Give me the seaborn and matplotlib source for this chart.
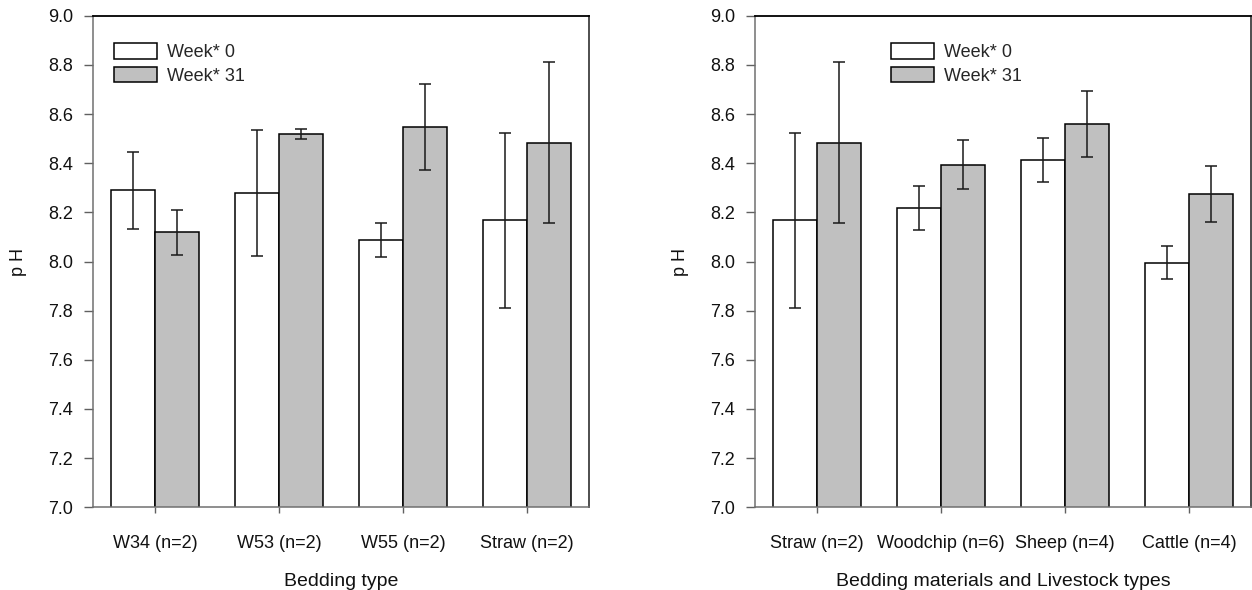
import matplotlib
matplotlib.use("Agg")
import matplotlib.pyplot as plt
import seaborn as sns
import pandas as pd

# ---- data ----
left_categories = ["W34 (n=2)", "W53 (n=2)", "W55 (n=2)", "Straw (n=2)"]
left_week0 = [8.290, 8.278, 8.088, 8.167]
left_week0_err = [0.156, 0.257, 0.070, 0.355]
left_week31 = [8.118, 8.519, 8.546, 8.483]
left_week31_err = [0.091, 0.020, 0.175, 0.328]

right_categories = ["Straw (n=2)", "Woodchip (n=6)", "Sheep (n=4)", "Cattle (n=4)"]
right_week0 = [8.167, 8.218, 8.413, 7.995]
right_week0_err = [0.355, 0.090, 0.090, 0.067]
right_week31 = [8.483, 8.394, 8.560, 8.274]
right_week31_err = [0.328, 0.101, 0.134, 0.113]

series_labels = ["Week* 0", "Week* 31"]
y_ticks = [7.0, 7.2, 7.4, 7.6, 7.8, 8.0, 8.2, 8.4, 8.6, 8.8, 9.0]
left_xlabel = "Bedding type"
right_xlabel = "Bedding materials and Livestock types"
ylabel = "p H"

sns.set_theme(style="ticks")
plt.rcParams["font.family"] = ["Liberation Sans", "DejaVu Sans"]

fig = plt.figure(figsize=(12.52, 5.9), dpi=100)
W, H = 1252, 590
ax_b = 1 - 507.3 / H
ax_h = 491.6 / H
ax_w = 496 / W
axL = fig.add_axes([93 / W, ax_b, ax_w, ax_h])
axR = fig.add_axes([755 / W, ax_b, ax_w, ax_h])

palette = {series_labels[0]: "white", series_labels[1]: "#c0c0c0"}


def panel(ax, cats, v0, e0, v31, e31, xlabel, legend_x):
    df = pd.DataFrame({
        "cat": cats + cats,
        "week": [series_labels[0]] * len(cats) + [series_labels[1]] * len(cats),
        "ph": v0 + v31,
    })
    errs = [e0, e31]
    sns.barplot(data=df, x="cat", y="ph", hue="week", order=cats,
                hue_order=series_labels, palette=palette, width=0.71,
                gap=0, errorbar=None, edgecolor="black", linewidth=1.1,
                legend=False, ax=ax)
    for cont, err in zip(ax.containers, errs):
        xs = [b.get_x() + b.get_width() / 2 for b in cont]
        ys = [b.get_height() for b in cont]
        ax.errorbar(xs, ys, yerr=err, fmt="none", ecolor="#1a1a1a",
                    elinewidth=1.1, capsize=4.3, capthick=1.1, zorder=5)
    ax.set_ylim(7.0, 9.0)
    ax.set_xlim(-0.5, len(cats) - 0.5)
    ax.set_yticks(y_ticks)
    ax.set_yticklabels([f"{t:.1f}" for t in y_ticks])
    ax.set_xlabel(xlabel, fontsize=14, labelpad=15, color="#111111")
    ax.set_ylabel(ylabel, fontsize=13, labelpad=15, color="#111111")
    ax.tick_params(axis="y", direction="out", length=6.5, width=1.0,
                   color="#606060", labelsize=13, pad=8, labelcolor="#111111")
    ax.tick_params(axis="x", direction="out", length=4.5, width=1.0,
                   color="#606060", labelsize=13, pad=15.5, labelcolor="#111111")
    for s in ["left", "bottom"]:
        ax.spines[s].set_color("#707070")
        ax.spines[s].set_linewidth(1.1)
    ax.spines["top"].set_color("black")
    ax.spines["top"].set_linewidth(1.3)
    ax.spines["right"].set_color("#404040")
    ax.spines["right"].set_linewidth(1.3)
    ax.legend(ax.containers[:2], series_labels, loc="upper left",
              bbox_to_anchor=(legend_x, 0.944), frameon=False,
              fontsize=13, borderaxespad=0, borderpad=0,
              handlelength=2.4, handleheight=0.95, handletextpad=0.55,
              labelspacing=0.3)


panel(axL, left_categories, left_week0, left_week0_err, left_week31,
      left_week31_err, left_xlabel, 0.042)
panel(axR, right_categories, right_week0, right_week0_err, right_week31,
      right_week31_err, right_xlabel, 0.274)

fig.savefig("out.png", dpi=100)
